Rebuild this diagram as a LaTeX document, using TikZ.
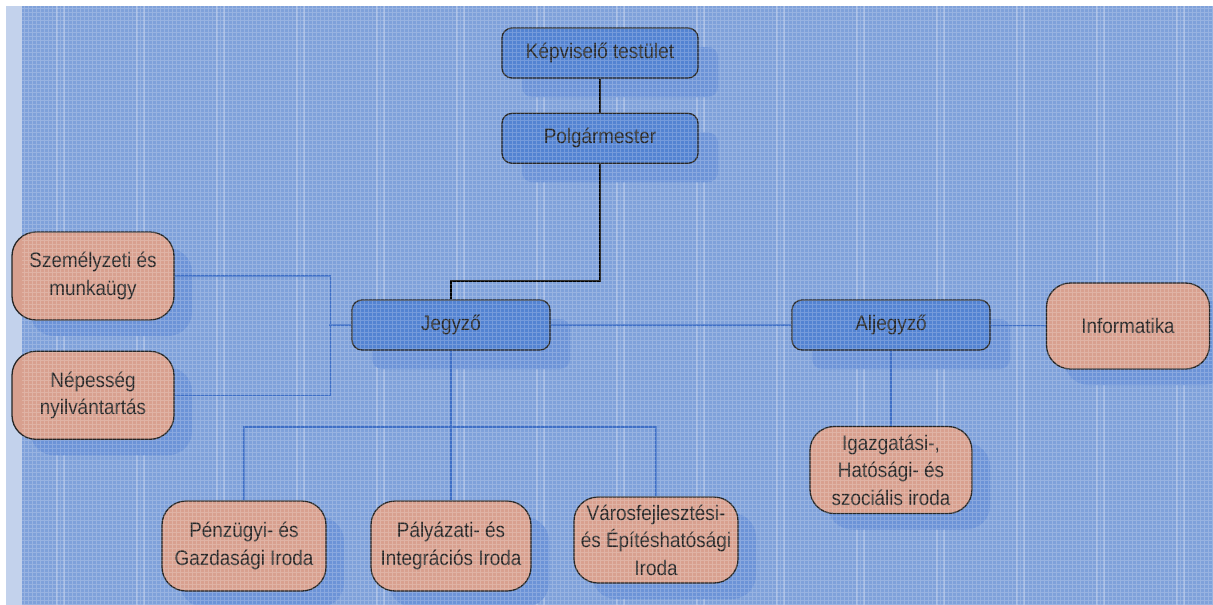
\documentclass[tikz,border=0pt]{standalone}
\usepackage{fontspec}
\setmainfont{Liberation Sans}[FakeStretch=0.9]
\usepackage{tikz}
\usetikzlibrary{positioning,shadows,calc}
\definecolor{bgblue}{HTML}{7FA1DA}
\definecolor{edgeblue}{HTML}{C3D2EC}
\definecolor{bossblue}{HTML}{5383D2}
\definecolor{shadowblue}{HTML}{6C93D7}
\definecolor{salmon}{HTML}{D8A08F}
\definecolor{linkblue}{HTML}{3D6EC6}
\tikzset{
    boss/.style={
        rectangle,
        rounded corners=10pt,
        draw=black!85,
        line width=1.3pt,
        fill=bossblue,
        text=black!85,
        minimum width=196pt,
        minimum height=50pt,
        font=\fontsize{21}{28}\selectfont,
        drop shadow={shadow xshift=20pt, shadow yshift=-19pt, fill=shadowblue, opacity=1},
    },
    office/.style={
        rectangle,
        rounded corners=24pt,
        draw=black!85,
        line width=1.3pt,
        fill=salmon,
        text=black!85,
        align=center,
        inner sep=1pt,
        minimum width=162pt,
        minimum height=88pt,
        font=\fontsize{21}{27.5}\selectfont,
        drop shadow={shadow xshift=18pt, shadow yshift=-16pt, fill=shadowblue, opacity=1},
    },
    link/.style={draw=linkblue, line width=1.2pt},
    chain/.style={draw=black, line width=1.8pt},
}
\begin{document}
\begin{tikzpicture}[x=1pt, y=-1pt, node distance=34pt]
    % paper
    \useasboundingbox (0,0) rectangle (1213,605);
    \fill[white] (0,0) rectangle (1213,605);
    \fill[edgeblue] (6,6) rectangle (22,605);
    \fill[bgblue] (22,6) rectangle (1213,605);
    \foreach \gx in {57,137,...,1177}
        \draw[white, opacity=.22, line width=1.2pt] (\gx,6) -- (\gx,605) (\gx+7,6) -- (\gx+7,605);

    % leaders
    \node [boss] (kt) at (600,53) {Képviselő testület};
    \node [boss, below=34pt of kt] (pm) {Polgármester};
    \node [boss, minimum width=198pt] (jz) at (451,325) {Jegyző};
    \node [boss, minimum width=198pt] (aj) at (891,325) {Aljegyző};

    % offices
    \node [office] (sz) at (93,276) {Személyzeti és\\munkaügy};
    \node [office, below=30pt of sz] (np) {Népesség\\nyilvántartás};
    \node [office, minimum width=163pt, minimum height=86pt] (inf) at (1128,326) {Informatika};
    \node [office, minimum width=164pt, minimum height=90pt] (pz) at (244,546) {Pénzügyi- és\\Gazdasági Iroda};
    \node [office, minimum width=160pt, minimum height=90pt] (py) at (451,546) {Pályázati- és\\Integrációs Iroda};
    \node [office, minimum width=164pt, minimum height=86pt] (vf) at (656,540) {Városfejlesztési-\\és Építéshatósági\\Iroda};
    \node [office, minimum height=87pt] (ig) at (891,470) {Igazgatási-,\\Hatósági- és\\szociális iroda};

    % connectors
    \coordinate (hub) at (451,427);
    \draw [chain] (kt) -- (pm);
    \draw [chain] (pm.south) -- ++(0,117) -| (jz.north);
    \draw [link] (jz) -- (aj);
    \draw [link] (aj) -- (inf);
    \draw [link] (sz.east) -- ++(156,0) |- (np.east);
    \draw [link] (jz.west) -- ++(-22,0);
    \draw [link] (jz) -- (py);
    \draw [link] (pz.north) |- (hub) -| (vf.north);
    \draw [link] (aj) -- (ig);

    % screen texture
    \draw[white, opacity=.2, line width=1pt, step=4pt] (22,6) grid (1213,605);
\end{tikzpicture}
\end{document}
